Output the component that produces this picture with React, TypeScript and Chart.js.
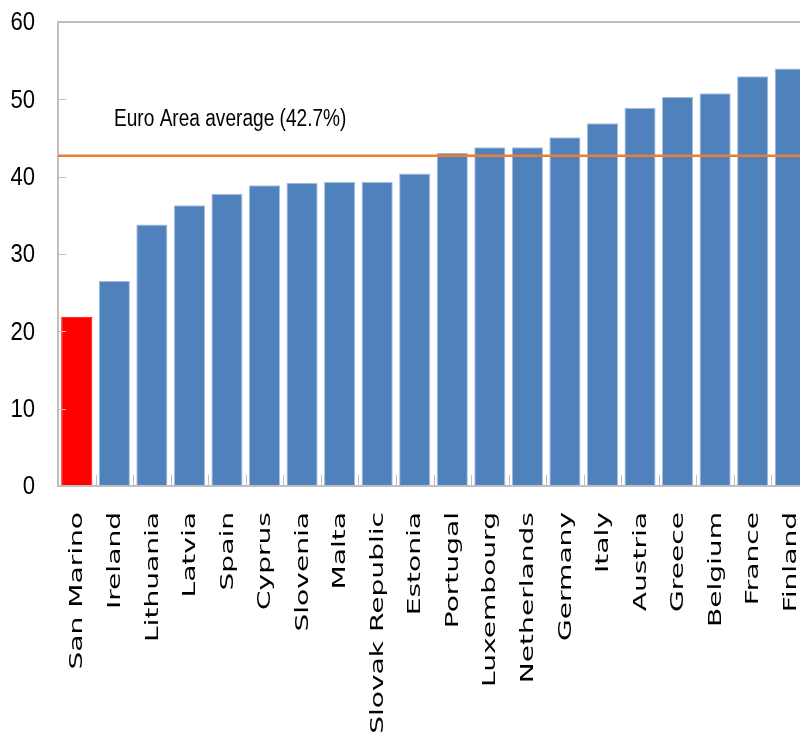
import React, { useEffect, useRef } from "react";
import { Chart, registerables } from "chart.js";

Chart.register(...registerables);

// Countries, ordered from lowest to highest value
const countries = [
  "San Marino", "Ireland", "Lithuania", "Latvia", "Spain", "Cyprus", "Slovenia",
  "Malta", "Slovak Republic", "Estonia", "Portugal", "Luxembourg", "Netherlands",
  "Germany", "Italy", "Austria", "Greece", "Belgium", "France", "Finland",
];
const values = [
  21.9, 26.5, 33.8, 36.3, 37.8, 38.9, 39.2, 39.3, 39.3, 40.4,
  43.1, 43.8, 43.8, 45.1, 46.9, 48.9, 50.3, 50.8, 53.0, 54.0,
];
const highlighted = "San Marino";
const euroAreaAverage = 42.7;
const averageLabel = "Euro Area average (42.7%)";
const yTicks = [0, 10, 20, 30, 40, 50, 60];

const SANS = "'Liberation Sans', Arial, sans-serif";

// Draws text squeezed or stretched along its reading direction
function drawScaledText(ctx: any, text: string, x: number, y: number, sx: number, rotation = 0) {
  ctx.save();
  ctx.translate(x, y);
  if (rotation) ctx.rotate(rotation);
  ctx.scale(sx, 1);
  ctx.fillText(text, 0, 0);
  ctx.restore();
}

// Average line, its caption, inward tick marks, value labels and category labels
const overlayPlugin = {
  id: "overlay",
  afterDatasetsDraw(chart: any) {
    const { ctx, chartArea, scales } = chart;
    const x = scales.x;
    const y = scales.y;

    ctx.save();
    // inward ticks on the value axis
    ctx.strokeStyle = "#BFBFBF";
    ctx.lineWidth = 1;
    for (const v of yTicks) {
      const py = Math.round(y.getPixelForValue(v)) + 0.5;
      ctx.beginPath();
      ctx.moveTo(chartArea.left, py);
      ctx.lineTo(chartArea.left + 8, py);
      ctx.stroke();
    }
    // inward ticks between categories
    for (let i = 1; i < countries.length; i++) {
      const px = Math.round((x.getPixelForValue(i - 1) + x.getPixelForValue(i)) / 2) + 0.5;
      ctx.beginPath();
      ctx.moveTo(px, chartArea.bottom);
      ctx.lineTo(px, chartArea.bottom - 11);
      ctx.stroke();
    }

    // average line
    const ay = y.getPixelForValue(euroAreaAverage);
    ctx.strokeStyle = "#ED7D31";
    ctx.lineWidth = 2.5;
    ctx.beginPath();
    ctx.moveTo(chartArea.left, ay);
    ctx.lineTo(chartArea.right, ay);
    ctx.stroke();

    ctx.fillStyle = "#000";
    ctx.font = `23px ${SANS}`;
    ctx.textAlign = "left";
    ctx.textBaseline = "middle";
    drawScaledText(ctx, averageLabel, chartArea.left + 56, ay - 36, 0.83);
    ctx.restore();
  },
  afterDraw(chart: any) {
    const { ctx, chartArea, scales } = chart;
    const x = scales.x;
    const y = scales.y;
    ctx.save();
    ctx.fillStyle = "#000";

    // value axis labels
    ctx.font = `26px ${SANS}`;
    ctx.textAlign = "right";
    ctx.textBaseline = "middle";
    for (const v of yTicks) {
      drawScaledText(ctx, String(v), chartArea.left - 23, y.getPixelForValue(v) + 1, 0.85);
    }

    // category labels, rotated
    ctx.font = "18px 'DejaVu Sans', sans-serif";
    ctx.textAlign = "right";
    ctx.textBaseline = "middle";
    countries.forEach((name, i) => {
      drawScaledText(ctx, name, x.getPixelForValue(i) + 1, chartArea.bottom + 26, 1.56, -Math.PI / 2);
    });
    ctx.restore();
  },
};

export default function App() {
  const canvasRef = useRef<HTMLCanvasElement>(null);

  useEffect(() => {
    if (!canvasRef.current) return;
    const chart = new Chart(canvasRef.current, {
      type: "bar",
      data: {
        labels: countries,
        datasets: [
          {
            data: values,
            backgroundColor: (c: any) =>
              countries[c.dataIndex] === highlighted ? "#FF0000" : "#4F81BD",
            borderColor: (c: any) =>
              countries[c.dataIndex] === highlighted ? "#FF0000" : "#A7BFDE",
            borderWidth: 1,
            categoryPercentage: 1,
            barPercentage: 0.83,
          },
        ],
      },
      options: {
        animation: false,
        responsive: false,
        maintainAspectRatio: false,
        layout: { padding: { top: 22, bottom: 250, left: 0, right: 0 } },
        plugins: { legend: { display: false }, tooltip: { enabled: false } },
        scales: {
          x: {
            offset: true,
            grid: { display: false },
            border: { color: "#BFBFBF", width: 2 },
            ticks: { display: false },
            afterFit: (axis: any) => {
              axis.height = 0;
              axis.paddingLeft = 0;
              axis.paddingRight = 0;
            },
          },
          y: {
            min: 0,
            max: 60,
            afterBuildTicks: (axis: any) => {
              axis.ticks = yTicks.map((v) => ({ value: v }));
            },
            afterFit: (axis: any) => {
              axis.width = 58;
              axis.paddingTop = 0;
              axis.paddingBottom = 0;
            },
            grid: {
              drawTicks: false,
              color: (c: any) => (c.tick && c.tick.value === 60 ? "#BFBFBF" : "rgba(0,0,0,0)"),
              lineWidth: 2,
            },
            border: { color: "#BFBFBF", width: 2 },
            ticks: { display: false },
          },
        },
      },
      plugins: [overlayPlugin],
    });
    return () => chart.destroy();
  }, []);

  return (
    <div
      style={{
        position: "fixed",
        left: 0,
        top: 0,
        width: 800,
        height: 736,
        overflow: "hidden",
        background: "#fff",
      }}
    >
      <canvas ref={canvasRef} width={809} height={736} style={{ display: "block" }} />
    </div>
  );
}
